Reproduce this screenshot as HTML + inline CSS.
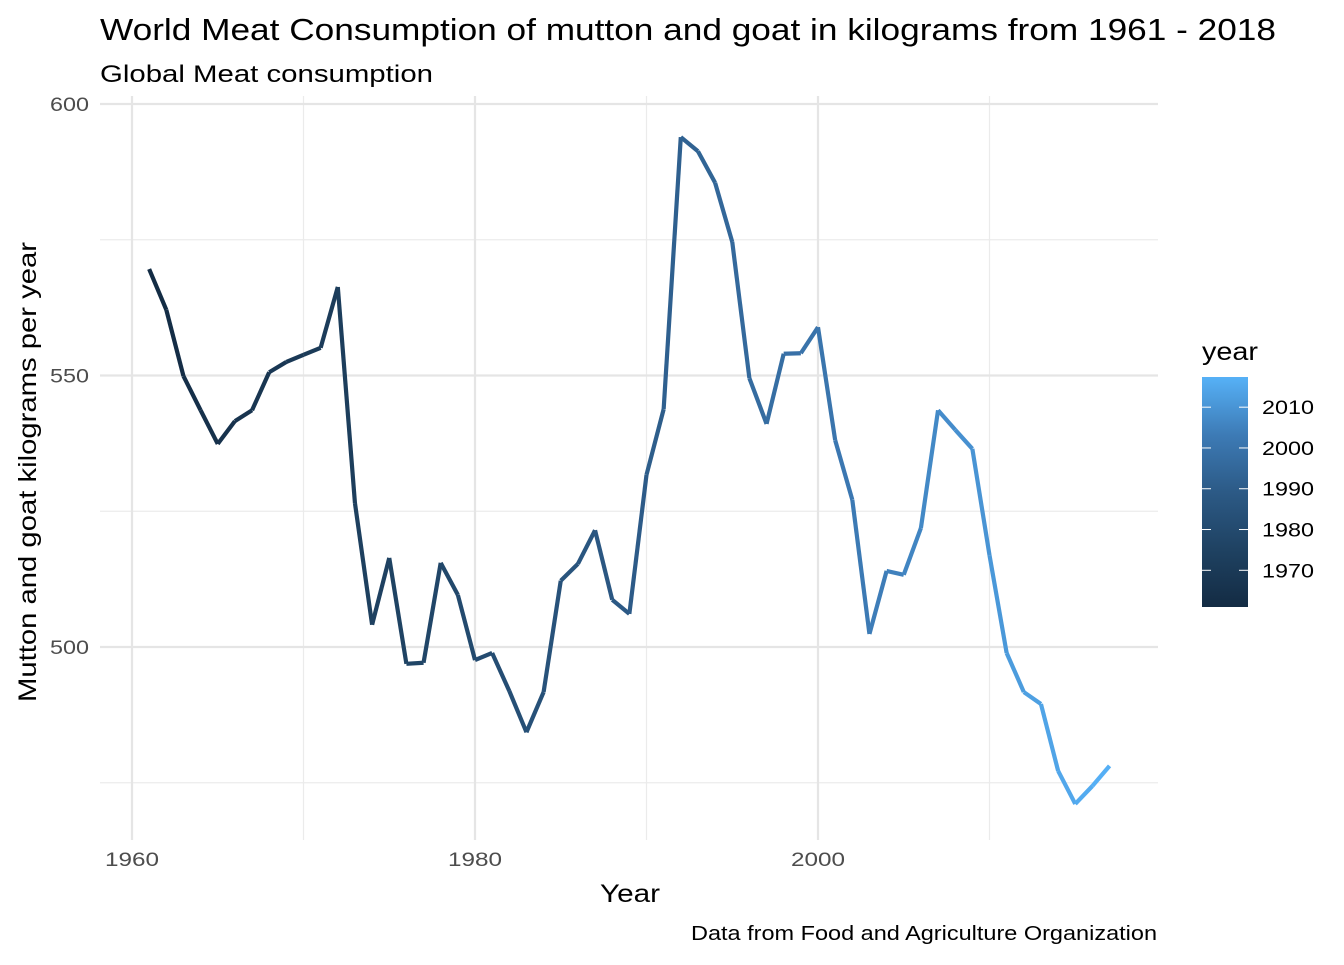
<!DOCTYPE html>
<html><head><meta charset="utf-8"><style>
body{margin:0;background:#fff;font-family:"Liberation Sans",Arial,sans-serif}
svg text{font-family:"Liberation Sans",Arial,sans-serif}
</style></head><body>
<svg id="chart" width="1344" height="960">
<defs><linearGradient id="cb" x1="0" y1="1" x2="0" y2="0">
<stop offset="0" stop-color="#132B43"/><stop offset="0.25" stop-color="#1F4262"/><stop offset="0.5" stop-color="#2C5A86"/><stop offset="0.75" stop-color="#3D7BB6"/><stop offset="1" stop-color="#56B1F7"/></linearGradient></defs>
<g id="grid"></g>
<g id="line"></g>
<g id="axes"></g>
<text x="100" y="40" font-size="31" textLength="1176" lengthAdjust="spacingAndGlyphs" fill="#000">World Meat Consumption of mutton and goat in kilograms from 1961 - 2018</text>
<text x="100" y="82" font-size="24" textLength="333" lengthAdjust="spacingAndGlyphs" fill="#000">Global Meat consumption</text>
<text x="600" y="902" font-size="25" textLength="60" lengthAdjust="spacingAndGlyphs">Year</text>
<text transform="translate(36,702) rotate(-90)" font-size="25" textLength="460" lengthAdjust="spacingAndGlyphs">Mutton and goat kilograms per year</text>
<text x="691" y="940" font-size="20" textLength="466" lengthAdjust="spacingAndGlyphs">Data from Food and Agriculture Organization</text>
<text x="1202" y="360" font-size="25" textLength="56" lengthAdjust="spacingAndGlyphs">year</text>
<rect x="1202" y="377" width="46" height="230" fill="url(#cb)"/>
<g id="legend"></g>
</svg>
<script>
const years=[1961,1962,1963,1964,1965,1966,1967,1968,1969,1970,1971,1972,1973,1974,1975,1976,1977,1978,1979,1980,1981,1982,1983,1984,1985,1986,1987,1988,1989,1990,1991,1992,1993,1994,1995,1996,1997,1998,1999,2000,2001,2002,2003,2004,2005,2006,2007,2008,2009,2010,2011,2012,2013,2014,2015,2016,2017];
const values=[569.6,562.1,549.9,543.6,537.4,541.6,543.6,550.6,552.5,553.8,555.1,566.3,526.5,504.1,516.4,496.9,497.1,515.5,509.6,497.6,498.9,491.9,484.3,491.7,512.2,515.3,521.5,508.7,506.1,531.7,543.8,593.9,591.3,585.5,574.6,549.5,541.1,554.0,554.1,558.9,538.1,527.1,502.4,514.0,513.3,521.9,543.6,540.0,536.5,516.9,498.9,491.7,489.5,477.2,471.1,474.4,478.1];
const xTicks=[1960,1980,2000];
const xMinor=[1970,1990,2010];
const yTicks=[500,550,600];
const yMinor=[475,525,575];
const legendTicks=[1970,1980,1990,2000,2010];
const NS='http://www.w3.org/2000/svg';
const x=v=>132+(v-1960)*17.15;
const y=v=>104+(600-v)*5.43;
const L=100,R=1158,T=96,B=840;
function mk(t,a,p){const e=document.createElementNS(NS,t);for(const k in a)e.setAttribute(k,a[k]);p.appendChild(e);return e;}
const g=document.getElementById('grid'),ax=document.getElementById('axes'),ln=document.getElementById('line'),lg=document.getElementById('legend');
yMinor.forEach(v=>{const e=mk('line',{x1:L,x2:R,y1:y(v),y2:y(v),stroke:'#ebebeb','stroke-width':1.2},g);

});
xMinor.forEach(v=>{const e=mk('line',{x1:x(v),x2:x(v),y1:T,y2:B,stroke:'#ebebeb','stroke-width':1.2},g);

});
yTicks.forEach(v=>{const e=mk('line',{x1:L,x2:R,y1:y(v),y2:y(v),stroke:'#e5e5e5','stroke-width':2.2},g);


const t=mk('text',{x:89,y:y(v)+7,'font-size':19,fill:'#4d4d4d','text-anchor':'end',textLength:39,lengthAdjust:'spacingAndGlyphs'},ax);t.textContent=v;

});
xTicks.forEach(v=>{const e=mk('line',{x1:x(v),x2:x(v),y1:T,y2:B,stroke:'#e5e5e5','stroke-width':2.2},g);


const t=mk('text',{x:x(v)-27,y:866,'font-size':19,fill:'#4d4d4d',textLength:54,lengthAdjust:'spacingAndGlyphs'},ax);t.textContent=v;

});
const stops=[[0x13,0x2B,0x43],[0x1F,0x42,0x62],[0x2C,0x5A,0x86],[0x3D,0x7B,0xB6],[0x56,0xB1,0xF7]];
function col(yr){const f=Math.max(0,Math.min(1,(yr-1961)/(2017-1961)))*4;const i=Math.min(3,Math.floor(f)),r=f-i;const a=stops[i],b=stops[i+1];return 'rgb('+a.map((c,k)=>Math.round(c+(b[k]-c)*r)).join(',')+')';}
for(let i=0;i<years.length-1;i++){const e=mk('line',{x1:x(years[i]),y1:y(values[i]),x2:x(years[i+1]),y2:y(values[i+1]),stroke:col((years[i]+years[i+1])/2),'stroke-width':4.2,'stroke-linecap':'butt'},ln);

}
const ly=v=>607-(v-1961)/(2017.4-1961)*230;
legendTicks.forEach(v=>{mk('line',{x1:1202,x2:1211,y1:ly(v),y2:ly(v),stroke:'#fff','stroke-width':1},lg);mk('line',{x1:1239,x2:1248,y1:ly(v),y2:ly(v),stroke:'#fff','stroke-width':1},lg);
const t=mk('text',{x:1262,y:ly(v)+7,'font-size':19,fill:'#000',textLength:52,lengthAdjust:'spacingAndGlyphs'},lg);t.textContent=v;

});
</script>
</body></html>
